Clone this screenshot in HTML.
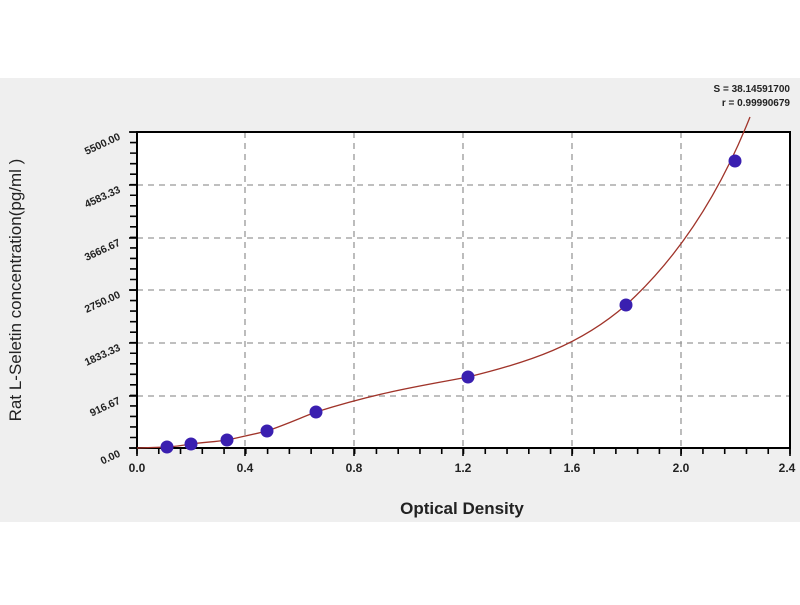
<!DOCTYPE html><html><head><style>body{margin:0;background:#fff}</style></head><body>
<svg width="800" height="600" xmlns="http://www.w3.org/2000/svg" font-family="Liberation Sans, sans-serif">
<rect x="0" y="78" width="800" height="444" fill="#efefef"/>
<rect x="137" y="132" width="653" height="316" fill="#fff"/>
<g stroke="#999" stroke-dasharray="6,5" stroke-width="1.3">
<line x1="137" y1="185" x2="790" y2="185"/><line x1="137" y1="238" x2="790" y2="238"/>
<line x1="137" y1="290" x2="790" y2="290"/><line x1="137" y1="343" x2="790" y2="343"/>
<line x1="137" y1="396" x2="790" y2="396"/>
<line x1="245" y1="132" x2="245" y2="448"/><line x1="354" y1="132" x2="354" y2="448"/>
<line x1="463" y1="132" x2="463" y2="448"/><line x1="572" y1="132" x2="572" y2="448"/>
<line x1="681" y1="132" x2="681" y2="448"/>
</g>
<rect x="137" y="132" width="653" height="316" fill="none" stroke="#000" stroke-width="2"/>
<line x1="133" y1="131.25" x2="133" y2="449" stroke="#000" stroke-width="6" stroke-dasharray="1.6,8.933"/>
<line x1="136.2" y1="451" x2="791" y2="451" stroke="#000" stroke-width="6" stroke-dasharray="1.6,20.167"/>
<g stroke="#000" stroke-width="1.6">
<line x1="129" y1="132" x2="137" y2="132"/><line x1="129" y1="185" x2="137" y2="185"/><line x1="129" y1="238" x2="137" y2="238"/>
<line x1="129" y1="290" x2="137" y2="290"/><line x1="129" y1="343" x2="137" y2="343"/><line x1="129" y1="396" x2="137" y2="396"/><line x1="129" y1="448" x2="137" y2="448"/>
<line x1="245" y1="448" x2="245" y2="456"/><line x1="354" y1="448" x2="354" y2="456"/><line x1="463" y1="448" x2="463" y2="456"/>
<line x1="572" y1="448" x2="572" y2="456"/><line x1="681" y1="448" x2="681" y2="456"/><line x1="790" y1="448" x2="790" y2="456"/><line x1="137" y1="448" x2="137" y2="456"/>
</g>
<path d="M137,448 L167,447 C180,446 185,445 191,444 C205,442 215,442 227,440 C245,436 255,434 267,431 C290,423 300,418 316,412 C380,392 420,386 468,377 C530,362 580,345 626,305 C670,265 715,205 750,117" fill="none" stroke="#a0342a" stroke-width="1.3"/>
<g fill="#3a1fb0">
<circle cx="167" cy="447" r="6.5"/><circle cx="191" cy="444" r="6.5"/><circle cx="227" cy="440" r="6.5"/>
<circle cx="267" cy="431" r="6.5"/><circle cx="316" cy="412" r="6.5"/><circle cx="468" cy="377" r="6.5"/>
<circle cx="626" cy="305" r="6.5"/><circle cx="735" cy="161" r="6.5"/></g>
<g font-size="12" font-weight="bold" fill="#222" text-anchor="middle">
<text x="137" y="472">0.0</text><text x="245" y="472">0.4</text><text x="354" y="472">0.8</text>
<text x="463" y="472">1.2</text><text x="572" y="472">1.6</text><text x="681" y="472">2.0</text><text x="787" y="472">2.4</text>
</g>
<g font-size="10.5" font-weight="bold" fill="#222" text-anchor="end">
<text transform="translate(121,456) rotate(-25)">0.00</text>
<text transform="translate(121,403) rotate(-25)">916.67</text>
<text transform="translate(121,350) rotate(-25)">1833.33</text>
<text transform="translate(121,297) rotate(-25)">2750.00</text>
<text transform="translate(121,245) rotate(-25)">3666.67</text>
<text transform="translate(121,192) rotate(-25)">4583.33</text>
<text transform="translate(121,139) rotate(-25)">5500.00</text>
</g>
<g font-size="10" font-weight="bold" fill="#222" text-anchor="end">
<text x="790" y="92">S = 38.14591700</text><text x="790" y="106">r = 0.99990679</text></g>
<text x="462" y="514" font-size="17" font-weight="bold" text-anchor="middle" fill="#222">Optical Density</text>
<text transform="translate(21,290) rotate(-90)" font-size="17" text-anchor="middle" fill="#222">Rat L-Seletin concentration(pg/ml )</text>
</svg></body></html>
